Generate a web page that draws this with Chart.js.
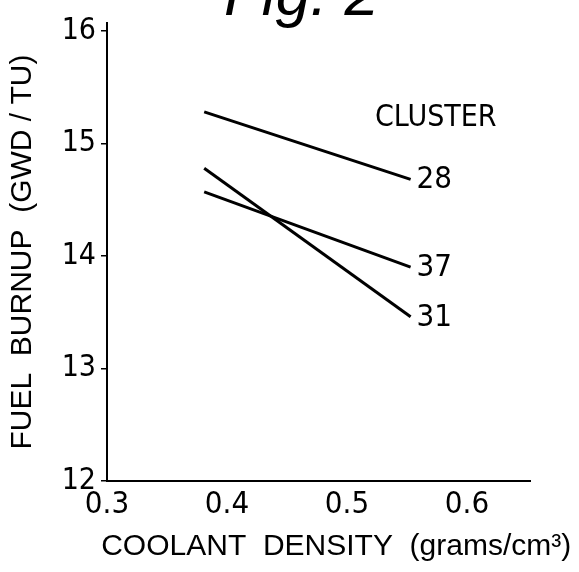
<!DOCTYPE html>
<html>
<head>
<meta charset="utf-8">
<script src="https://cdn.jsdelivr.net/npm/chart.js@4.4.1/dist/chart.umd.min.js"></script>
<style>
  html, body { margin: 0; padding: 0; background: #fff; }
  #wrap { width: 579px; height: 572px; position: relative; }
</style>
</head>
<body>
<div id="wrap"><canvas id="fig"></canvas></div>
<script>
// coolant density (g/cm3) at both ends of each cluster line
const density   = [0.381, 0.553];
const cluster28 = [15.28, 14.68];
const cluster31 = [14.78, 13.46];
const cluster37 = [14.57, 13.90];
const clusterNames = ['28', '31', '37'];
const xTicks = [0.3, 0.4, 0.5, 0.6];
const yTicks = [12, 13, 14, 15, 16];
const xTitle = 'COOLANT  DENSITY  (grams/cm³)';

const NARROW = '"DejaVu Sans Condensed", "Liberation Sans Narrow", "DejaVu Sans", sans-serif';
const WIDE = '"Liberation Sans", Arial, sans-serif';

const pts = ys => density.map((x, i) => ({ x, y: ys[i] }));

// end labels, the CLUSTER caption, the x title (wider than the axis) and the figure title
const labelsPlugin = {
  id: 'labels',
  afterDatasetsDraw(chart) {
    const { ctx, scales: { x, y } } = chart;
    ctx.save();
    ctx.fillStyle = '#000';
    ctx.font = '31px ' + NARROW;
    ctx.textAlign = 'left';
    ctx.textBaseline = 'middle';
    chart.data.datasets.forEach(ds => {
      const last = ds.data[ds.data.length - 1];
      ctx.fillText(ds.label, x.getPixelForValue(last.x) + 6, y.getPixelForValue(last.y) + 1);
    });
    ctx.textAlign = 'center';
    ctx.font = '30px ' + NARROW;
    ctx.fillText('CLUSTER', x.getPixelForValue(0.574), y.getPixelForValue(15.22));
    ctx.font = '30px ' + WIDE;
    ctx.fillText(xTitle, x.getPixelForValue(0.491), x.bottom - 25);
    ctx.textAlign = 'left';
    ctx.textBaseline = 'alphabetic';
    ctx.font = 'italic 62px ' + WIDE;
    ctx.fillText('Fig. 2', 224, 15);
    ctx.restore();
  }
};

new Chart(document.getElementById('fig'), {
  type: 'line',
  data: {
    datasets: [
      { label: clusterNames[0], data: pts(cluster28) },
      { label: clusterNames[1], data: pts(cluster31) },
      { label: clusterNames[2], data: pts(cluster37) }
    ].map(d => Object.assign(d, { borderColor: '#000', borderWidth: 3, pointRadius: 0, tension: 0, fill: false }))
  },
  options: {
    responsive: true,
    maintainAspectRatio: false,
    animation: false,
    layout: { padding: { top: 14, right: 49, left: 0, bottom: 0 } },
    plugins: { legend: { display: false }, tooltip: { enabled: false } },
    scales: {
      x: {
        type: 'linear', min: 0.3, max: 0.6525,
        afterBuildTicks: s => { s.ticks = xTicks.map(v => ({ value: v })); },
        afterFit: s => { s.height = 91; },
        ticks: { color: '#000', font: { family: NARROW, size: 31 }, padding: 5, maxRotation: 0,
                 callback: v => v.toFixed(1) },
        grid: { drawOnChartArea: false, drawTicks: false },
        border: { display: true, color: '#000', width: 2 },
        title: { display: false }
      },
      y: {
        type: 'linear', min: 12, max: 16.07,
        afterBuildTicks: s => { s.ticks = yTicks.map(v => ({ value: v })); },
        afterFit: s => { s.width = 107; },
        ticks: { color: '#000', font: { family: NARROW, size: 30 }, padding: 5 },
        grid: { drawOnChartArea: false, drawTicks: true, tickLength: 6, color: '#000', lineWidth: 1.5 },
        border: { display: true, color: '#000', width: 2 },
        title: { display: true, text: 'FUEL  BURNUP  (GWD / TU)', color: '#000',
                 font: { family: WIDE, size: 30 }, padding: { top: 5, bottom: 0 } }
      }
    }
  },
  plugins: [labelsPlugin]
});
</script>
</body>
</html>
